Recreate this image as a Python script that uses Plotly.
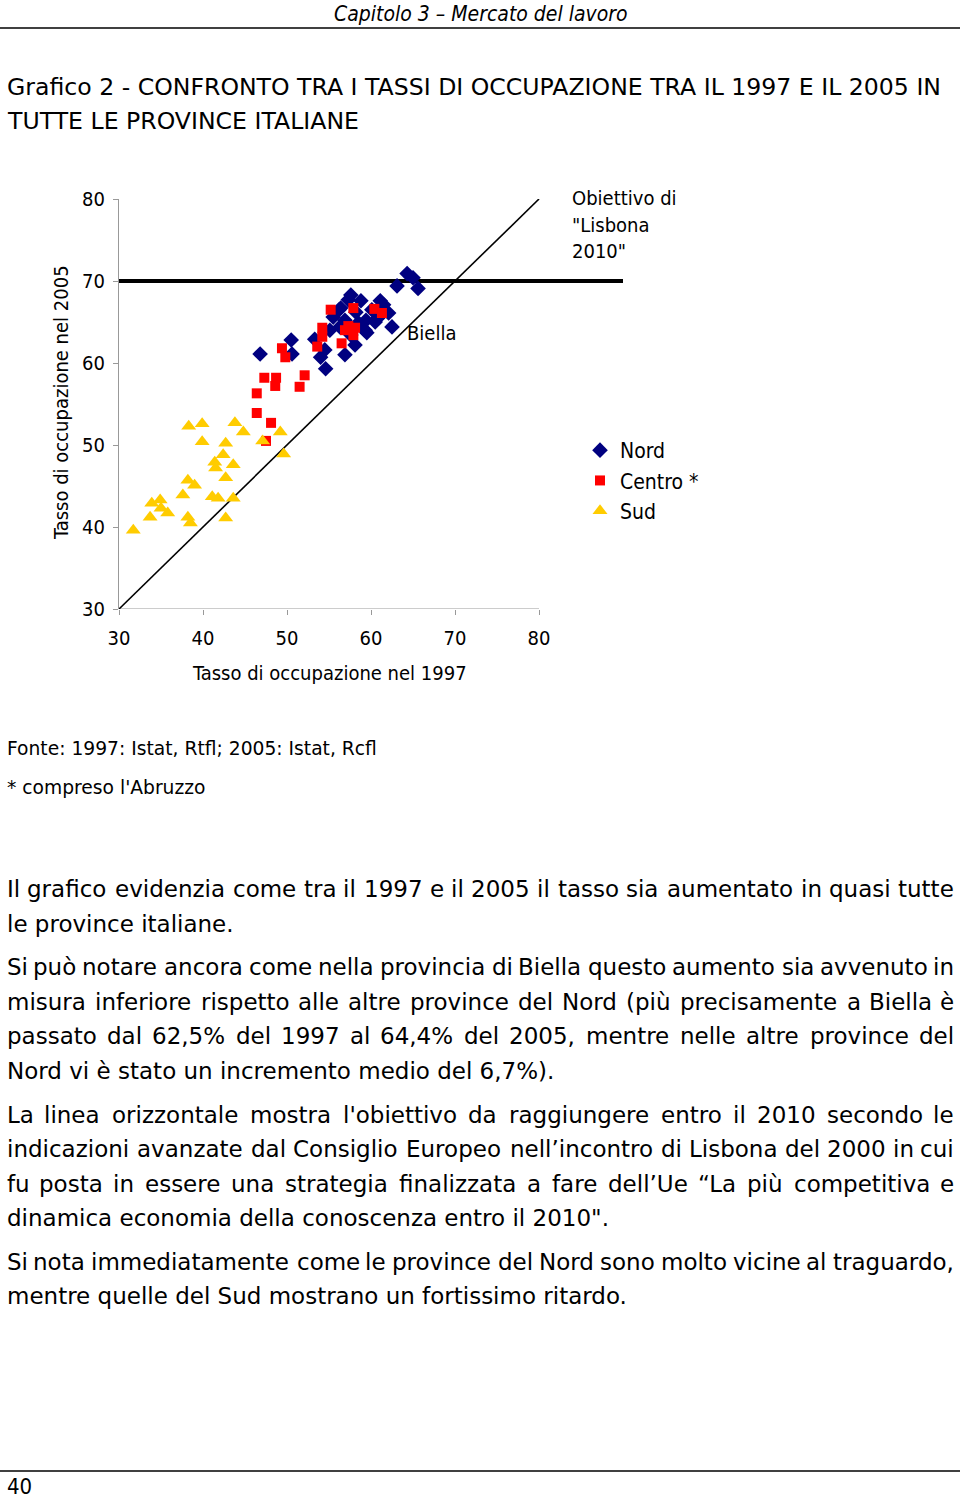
import plotly.graph_objects as go

# ---------------- data ----------------
nord_1997 = [46.8, 50.5, 50.6, 53.3, 54.5, 54.0, 54.6, 56.9, 57.6, 56.4, 58.1, 55.5, 56.2, 58.8,
             61.1, 62.1, 62.5, 59.4, 59.5, 60.5, 61.4, 56.3, 58.5, 64.3, 65.0, 63.1, 65.6, 60.1,
             59.3, 57.6, 56.9, 57.3, 60.8, 61.5, 55.1, 58.2]
nord_2005 = [61.1, 62.8, 61.1, 62.9, 61.6, 60.7, 59.3, 61.0, 68.3, 66.7, 62.2, 65.6, 66.5, 67.6,
             67.6, 66.1, 64.4, 65.2, 63.7, 65.0, 66.1, 64.4, 64.9, 70.9, 70.4, 69.4, 69.1, 66.5,
             64.0, 63.4, 65.2, 67.7, 65.5, 67.1, 64.0, 66.2]

centro_1997 = [55.2, 57.9, 60.4, 61.3, 54.2, 54.2, 53.6, 57.3, 58.1, 57.9, 56.5, 56.9, 49.4, 49.8,
               47.3, 48.7, 48.6, 46.4, 51.5, 52.1, 46.4, 48.1, 47.5]
centro_2005 = [66.5, 66.7, 66.6, 66.1, 64.3, 63.2, 62.0, 64.5, 64.3, 63.4, 62.4, 64.0, 61.8, 60.7,
               58.2, 58.2, 57.2, 56.3, 57.1, 58.5, 53.9, 52.7, 50.5]

sud_1997 = [38.3, 39.9, 43.8, 44.8, 39.9, 42.7, 47.1, 49.2, 49.6, 42.4, 41.4, 43.6, 41.5, 42.7,
            38.2, 39.0, 37.6, 41.1, 41.8, 43.6, 33.9, 34.9, 33.7, 35.8, 35.0, 38.2, 38.5, 31.7, 42.7]
sud_2005 = [52.3, 52.6, 52.7, 51.6, 50.4, 50.2, 50.5, 51.6, 48.9, 48.8, 47.9, 47.6, 47.2, 46.0,
            45.7, 45.1, 43.9, 43.7, 43.5, 43.5, 42.9, 43.3, 41.2, 41.7, 42.3, 41.2, 40.5, 39.6, 41.1]

lisbona_x = [30, 90]
lisbona_y = [70, 70]
diag_x = [30, 80]
diag_y = [30, 80]
tick_vals = [30, 40, 50, 60, 70, 80]

body_lines = [
    "Il grafico evidenzia come tra il 1997 e il 2005 il tasso sia aumentato in quasi tutte",
    "le province italiane.",
    "Si può notare ancora come nella provincia di Biella questo aumento sia avvenuto in",
    "misura inferiore rispetto alle altre province del Nord (più precisamente a Biella è",
    "passato dal 62,5% del 1997 al 64,4% del 2005, mentre nelle altre province del",
    "Nord vi è stato un incremento medio del 6,7%).",
    "La linea orizzontale mostra l'obiettivo da raggiungere entro il 2010 secondo le",
    "indicazioni avanzate dal Consiglio Europeo nell’incontro di Lisbona del 2000 in cui",
    "fu posta in essere una strategia finalizzata a fare dell’Ue “La più competitiva e",
    "dinamica economia della conoscenza entro il 2010\".",
    "Si nota immediatamente come le province del Nord sono molto vicine al traguardo,",
    "mentre quelle del Sud mostrano un fortissimo ritardo.",
]
body_justify = [True, False, True, True, True, False, True, True, True, False, True, False]
body_y = [889, 924, 967, 1002, 1036, 1071, 1115, 1149, 1184, 1218, 1262, 1296]

# ---------------- layout helpers ----------------
W, H = 960, 1499
L, R, T, B = 119, 623, 199, 609   # plot area in page pixels
COND = "DejaVu Sans Condensed, DejaVu Sans, sans-serif"
SANS = "DejaVu Sans, sans-serif"

# approximate DejaVu Sans advance widths (units per 2048 em)
ADV = {" ": 651, "!": 821, "\"": 942, "%": 1946, "'": 563, "(": 799, ")": 799, "*": 1024,
       ",": 651, "-": 739, ".": 651, ":": 690, ";": 690, "’": 651, "“": 1067,
       "A": 1401, "B": 1405, "C": 1430, "D": 1577, "E": 1294, "F": 1178, "G": 1587, "H": 1540,
       "I": 604, "L": 1141, "M": 1767, "N": 1532, "O": 1612, "P": 1235, "S": 1300, "T": 1251,
       "U": 1499, "a": 1255, "b": 1300, "c": 1126, "d": 1300, "e": 1260, "f": 721, "g": 1300,
       "h": 1298, "i": 569, "j": 569, "k": 1186, "l": 569, "m": 1995, "n": 1298, "o": 1253,
       "p": 1300, "q": 1300, "r": 842, "s": 1067, "t": 803, "u": 1298, "v": 1212, "w": 1675,
       "x": 1212, "y": 1212, "z": 1075, "ù": 1298, "ò": 1253, "è": 1260, "à": 1255}
for d in "0123456789":
    ADV[d] = 1303


def tw(s, size):
    return sum(ADV.get(c, 1250) for c in s) / 2048 * size * 1.015


def px(x):
    return (x - L) / (R - L)


def py(y):
    return (B - y) / (B - T)


fig = go.Figure()

fig.add_trace(go.Scatter(x=lisbona_x, y=lisbona_y, mode="lines",
                         line=dict(color="black", width=4), showlegend=False, hoverinfo="skip"))
fig.add_trace(go.Scatter(x=diag_x, y=diag_y, mode="lines",
                         line=dict(color="black", width=1.6), showlegend=False, hoverinfo="skip"))

fig.add_trace(go.Scatter(x=nord_1997, y=nord_2005, mode="markers", name="Nord",
                         marker=dict(symbol="diamond", size=12, color="#000080")))
fig.add_trace(go.Scatter(x=centro_1997, y=centro_2005, mode="markers", name="Centro *",
                         marker=dict(symbol="square", size=10, color="#FF0000")))
fig.add_trace(go.Scatter(x=sud_1997, y=sud_2005, mode="markers", name="Sud",
                         marker=dict(symbol="triangle-up", size=13, color="#FFCC00")))

ann = []


def text(x, y, s, size, xanchor="left", italic=False, angle=0, family=COND):
    ann.append(dict(x=px(x), y=py(y), xref="paper", yref="paper",
                    text=(f"<i>{s}</i>" if italic else s),
                    showarrow=False, xanchor=xanchor, yanchor="middle", textangle=angle,
                    borderpad=0,
                    font=dict(family=family, size=size, color="black")))


BODY = 23
LEFT, RIGHT = 6, 955

text(481, 14, "Capitolo 3 – Mercato del lavoro", 21, xanchor="center", italic=True)
text(LEFT, 87, "Grafico 2 - CONFRONTO TRA I TASSI DI OCCUPAZIONE TRA IL 1997 E IL 2005 IN", 23.6, family=SANS)
text(LEFT, 121, "TUTTE LE PROVINCE ITALIANE", 23.6, family=SANS)
text(61, 403, "Tasso di occupazione nel 2005", 20, xanchor="center", angle=-90)
text(329, 673, "Tasso di occupazione nel 1997", 20, xanchor="center")
text(571, 198, "Obiettivo di", 20)
text(571, 225, "\"Lisbona", 20)
text(571, 251, "2010\"", 20)
text(406, 333, "Biella", 20)
text(LEFT, 748, "Fonte: 1997: Istat, Rtfl; 2005: Istat, Rcfl", 18.7, family=SANS)
text(LEFT, 787, "* compreso l'Abruzzo", 18.7, family=SANS)

for line, yy, just in zip(body_lines, body_y, body_justify):
    if not just:
        text(LEFT, yy, line, BODY, family=SANS)
        continue
    words = line.split(" ")
    widths = [tw(w, BODY) for w in words]
    gap = (RIGHT - LEFT - sum(widths)) / (len(words) - 1)
    xcur = LEFT
    n = len(words)
    for i, (wd, wdt) in enumerate(zip(words, widths)):
        if i == 0:
            text(LEFT, yy, wd, BODY, family=SANS)
        elif i == n - 1:
            text(RIGHT, yy, wd, BODY, xanchor="right", family=SANS)
        else:
            text(xcur + wdt / 2, yy, wd, BODY, xanchor="center", family=SANS)
        xcur += wdt + gap

text(LEFT, 1486, "40", 22, family=COND)

shapes = [
    dict(type="line", xref="paper", yref="paper", x0=px(0), x1=px(960), y0=py(28), y1=py(28),
         line=dict(color="black", width=1.5)),
    dict(type="line", xref="paper", yref="paper", x0=px(0), x1=px(960), y0=py(1471), y1=py(1471),
         line=dict(color="black", width=1.5)),
    dict(type="line", xref="x", yref="y", x0=30, x1=80, y0=30, y1=30,
         line=dict(color="#999999", width=1), layer="below"),
]

fig.update_layout(
    width=W, height=H,
    margin=dict(l=L, r=W - R, t=T, b=H - B, autoexpand=False),
    paper_bgcolor="white", plot_bgcolor="white",
    font=dict(family=COND, size=20, color="black"),
    showlegend=True,
    legend=dict(x=px(580), y=py(430), xanchor="left", yanchor="top",
                font=dict(family=COND, size=21), bgcolor="rgba(0,0,0,0)",
                tracegroupgap=0, itemsizing="trace"),
    annotations=ann,
    shapes=shapes,
    xaxis=dict(range=[30, 90], tickvals=tick_vals, ticktext=[str(v) for v in tick_vals],
               showgrid=False, zeroline=False, showline=False,
               ticks="outside", ticklen=5, tickcolor="#999999", ticklabelstandoff=6,
               tickfont=dict(family=COND, size=20)),
    yaxis=dict(range=[30, 80], tickvals=tick_vals, showgrid=False, zeroline=False,
               showline=True, linecolor="#999999", linewidth=1,
               ticks="outside", ticklen=5, tickcolor="#999999", ticklabelstandoff=4,
               tickfont=dict(family=COND, size=20)),
)

fig.write_html("out.html", config={"displayModeBar": False},
               post_script="document.body.style.margin='0px'; document.body.style.overflow='hidden';")
